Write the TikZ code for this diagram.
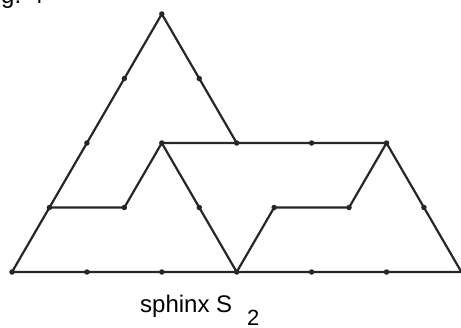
\documentclass[tikz,border=0pt]{standalone}
\usepackage{fontspec}
\setmainfont{Liberation Sans}
\begin{document}
\begin{tikzpicture}[x=1pt,y=-1pt,
  edge/.style={line width=2.2pt,line join=miter,black!85},
  dot/.style={circle,fill=black!85,inner sep=0pt,minimum size=5.5pt},
  lbl/.style={inner sep=0pt,font=\fontsize{24}{28}\selectfont}]
\useasboundingbox (0,0) rectangle (461,327);
\def\u{74.9}\def\h{64.5}
\coordinate (b0) at (12,272);
\coordinate (b1) at (12+\u,272);
\coordinate (b2) at (12+2*\u,272);
\coordinate (b3) at (12+3*\u,272);
\coordinate (b4) at (12+4*\u,272);
\coordinate (b5) at (12+5*\u,272);
\coordinate (b6) at (12+6*\u,272);
\coordinate (r10) at (12+0.5*\u,272-\h);
\coordinate (r11) at (12+1.5*\u,272-\h);
\coordinate (r12) at (12+2.5*\u,272-\h);
\coordinate (r13) at (12+3.5*\u,272-\h);
\coordinate (r14) at (12+4.5*\u,272-\h);
\coordinate (r15) at (12+5.5*\u,272-\h);
\coordinate (r20) at (12+\u,272-2*\h);
\coordinate (r21) at (12+2*\u,272-2*\h);
\coordinate (r22) at (12+3*\u,272-2*\h);
\coordinate (r23) at (12+4*\u,272-2*\h);
\coordinate (r24) at (12+5*\u,272-2*\h);
\coordinate (r30) at (12+1.5*\u,272-3*\h);
\coordinate (r31) at (12+2.5*\u,272-3*\h);
\coordinate (apex) at (12+2*\u,272-4*\h);
% outline and inner cuts
\draw[edge] (b0) -- (b6) -- (r24) -- (r21) -- (r22) -- (apex) -- cycle;
\draw[edge] (r10) -- (r11) -- (r21) -- (b3) -- (r13) -- (r14) -- (r24);
% dots
\foreach \p in {b0,b1,b2,b3,b4,b5,r10,r11,r12,r13,r14,r15,r20,r21,r22,r23,r24,r30,r31,apex}
  \node[dot] at (\p) {};
% labels
\node[lbl,anchor=base west] (cap) at (140,312) {sphinx S};
\node[lbl,anchor=base west,font=\fontsize{22}{26}\selectfont] (sub) at (247,325) {2};
\node[lbl,anchor=base west] (fig) at (-19,3) {Fig. 4};
\end{tikzpicture}
\end{document}
